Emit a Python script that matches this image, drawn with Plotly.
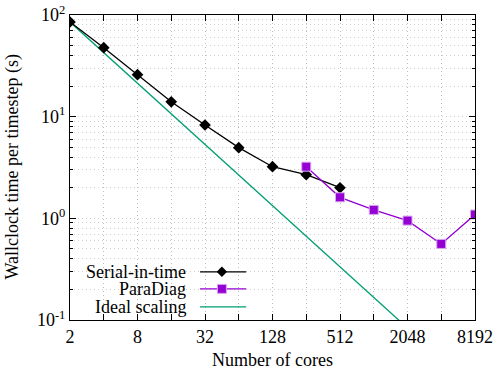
import plotly.graph_objects as go

serial_cores = [2, 4, 8, 16, 32, 64, 128, 256, 512]
serial_time = [85.3, 47.7, 25.9, 14.0, 8.28, 4.96, 3.22, 2.69, 2.00]

paradiag_cores = [256, 512, 1024, 2048, 4096, 8192]
paradiag_time = [3.22, 1.61, 1.21, 0.95, 0.56, 1.09]

ideal_cores = [2, 4, 8, 16, 32, 64, 128, 256, 512, 1024, 2048, 4096]
ideal_time = [85.3, 42.65, 21.33, 10.66, 5.33, 2.67, 1.33, 0.666, 0.333, 0.167, 0.0833, 0.0417]

x_major = [2, 8, 32, 128, 512, 2048, 8192]
x_labels = ["2", "8", "32", "128", "512", "2048", "8192"]
x_minor = [4, 16, 64, 256, 1024, 4096]
y_major = [0.1, 1, 10, 100]
y_labels = ["10<sup>-1</sup>", "10<sup>0</sup>", "10<sup>1</sup>", "10<sup>2</sup>"]
y_minor = [m * d for d in (0.1, 1, 10) for m in range(2, 10)]

legend_names = ["Serial-in-time", "ParaDiag", "Ideal scaling"]

BLACK = "#000000"
PURPLE = "#9400D3"
GREEN = "#009E73"
FONT = "Liberation Serif, Times New Roman, Times, serif"
FS = 18

fig = go.Figure()
fig.add_trace(go.Scatter(x=ideal_cores, y=ideal_time, mode="lines",
                         line=dict(color=GREEN, width=1.3), showlegend=False))
fig.add_trace(go.Scatter(x=serial_cores, y=serial_time, mode="lines+markers",
                         line=dict(color=BLACK, width=1.3),
                         marker=dict(symbol="diamond", size=9, color=BLACK),
                         showlegend=False))
fig.add_trace(go.Scatter(x=paradiag_cores, y=paradiag_time, mode="lines+markers",
                         line=dict(color=PURPLE, width=1.3),
                         marker=dict(symbol="square", size=9, color=PURPLE,
                                     line=dict(color="#d9a6ee", width=1)),
                         showlegend=False))

# manual gnuplot-style legend (samples on an overlay linear axis)
rows = [0.158, 0.102, 0.043]
markers = [
    dict(symbol="diamond", size=8, color=BLACK),
    dict(symbol="square", size=9, color=PURPLE, line=dict(color="#d9a6ee", width=1)),
    None,
]
colors = [BLACK, PURPLE, GREEN]
for name, yy, col, mk in zip(legend_names, rows, colors, markers):
    fig.add_trace(go.Scatter(x=[0.321, 0.435], y=[yy, yy], mode="lines",
                             line=dict(color=col, width=1.3), xaxis="x2", yaxis="y2",
                             showlegend=False, hoverinfo="skip"))
    if mk is not None:
        fig.add_trace(go.Scatter(x=[0.375], y=[yy], mode="markers", marker=mk,
                                 xaxis="x2", yaxis="y2", showlegend=False, hoverinfo="skip"))
    fig.add_annotation(x=0.292, y=yy, xref="x2", yref="y2", text=name, showarrow=False,
                       xanchor="right", yanchor="middle",
                       font=dict(family=FONT, size=FS, color=BLACK))

fig.add_shape(type="rect", xref="paper", yref="paper", x0=0.035, x1=0.48, y0=0.012, y1=0.19,
              fillcolor="white", line=dict(width=0), layer="between")

# axis titles
fig.add_annotation(x=0.5, y=-0.131, xref="paper", yref="paper", text="Number of cores",
                   showarrow=False, xanchor="center", yanchor="middle",
                   font=dict(family=FONT, size=FS, color=BLACK))
fig.add_annotation(x=-0.143, y=0.5, xref="paper", yref="paper",
                   text="Wallclock time per timestep (s)", textangle=-90,
                   showarrow=False, xanchor="center", yanchor="middle",
                   font=dict(family=FONT, size=FS, color=BLACK))

gridx = dict(gridcolor="#bdbdbd", griddash="1px,3px", gridwidth=1)
gridy = dict(gridcolor="#cfcfcf", griddash="1px,3px", gridwidth=1)
fig.update_layout(
    width=500, height=375,
    margin=dict(l=70, r=25, t=15, b=55, autoexpand=False),
    paper_bgcolor="white", plot_bgcolor="white",
    font=dict(family=FONT, size=FS, color=BLACK),
    xaxis=dict(type="log", range=[0.30103, 3.91339], tickvals=x_major, ticktext=x_labels,
               ticks="inside", ticklen=6, tickcolor=BLACK, showline=True, linecolor=BLACK,
               linewidth=1, mirror="allticks", showgrid=True, **gridx, automargin=False,
               minor=dict(tickvals=x_minor, ticks="inside", ticklen=6, tickcolor=BLACK,
                          showgrid=True, **gridx),
               tickfont=dict(family=FONT, size=FS), zeroline=False),
    yaxis=dict(type="log", range=[-1, 2], tickvals=y_major, ticktext=y_labels,
               ticks="inside", ticklen=6, tickcolor=BLACK, showline=True, linecolor=BLACK,
               linewidth=1, mirror="allticks", showgrid=True, **gridy, automargin=False,
               minor=dict(tickvals=y_minor, ticks="inside", ticklen=3, tickcolor=BLACK,
                          showgrid=True, **gridy),
               tickfont=dict(family=FONT, size=FS), zeroline=False),
    xaxis2=dict(overlaying="x", range=[0, 1], visible=False, fixedrange=True),
    yaxis2=dict(overlaying="y", range=[0, 1], visible=False, fixedrange=True),
)

fig.write_html("out.html", config={"displayModeBar": False},
               post_script="document.body.style.margin='0';document.body.style.overflow='hidden';")
